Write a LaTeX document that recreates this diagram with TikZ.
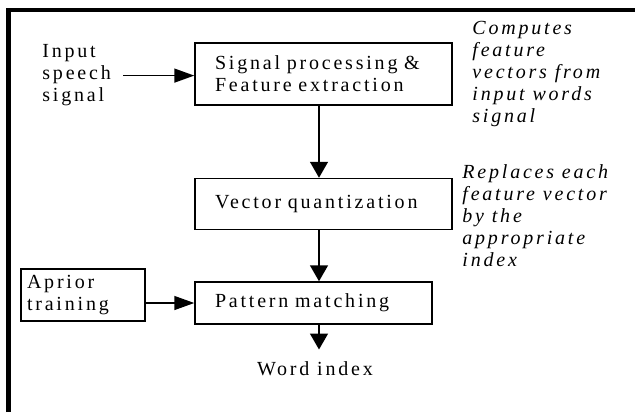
\documentclass[tikz,border=0pt]{standalone}
\usepackage{fontspec}
\setmainfont{Liberation Serif}[LetterSpace=14]
\usetikzlibrary{arrows.meta}
\usetikzlibrary{positioning}

\begin{document}
\begin{tikzpicture}[x=0.5pt,y=-0.5pt,font=\fontsize{10}{11}\selectfont]
\tikzstyle{block node}=[rectangle,draw,line width=0.75pt,align=left,inner xsep=10pt,inner ysep=0pt]
\tikzstyle{plain node}=[align=left,inner sep=0pt]
\tikzstyle{note node}=[align=left,inner sep=0pt,font=\fontsize{10}{11}\selectfont\itshape]
\tikzset{
  flow/.style = {-{Triangle[length=8pt,width=9pt]},line width=0.75pt},
  feed/.style = {-{Triangle[length=10pt,width=7pt]},line width=0.75pt}
}

\useasboundingbox (0,0) rectangle (635,412);
\draw[line width=2.25pt] (8.5,412) -- (8.5,10) -- (635,10);

    \node[block node,text width=108.5pt,minimum height=31pt] (sp) at (323.5,74) {Signal processing \&\\Feature extraction};
    \node[block node,text width=108.5pt,minimum height=25.5pt] (vq) [below=36pt of sp] {Vector quantization};
    \node[block node,text width=98.5pt,minimum height=21pt] (pm) [below right=25.5pt and 0pt of vq.south west] {Pattern matching};
    \node[block node,text width=56pt,inner xsep=3pt,minimum height=26pt] (apr) at (83,295) {Aprior\\training};
    \node[plain node,anchor=west] (inp) at (42,75.6) {Input\\speech\\signal};
    \node[plain node] (word) at (315,369) {Word index};

    %%%%%%%%%%%%%%%%%%%%%%%%%%
    \node[note node,anchor=north west] (cmt1) at (472,21) {Computes\\feature\\vectors from\\input words\\signal};
    \node[note node,anchor=north west] (cmt2) at (462,164) {Replaces each\\feature vector\\by the\\appropriate\\index};
    \coordinate (axis) at (319,0);

    \path[flow]
         (sp.south -| axis) edge (vq.north -| axis)
         (vq.south -| axis) edge (pm.north -| axis)
         (pm.south -| axis) edge[shorten >=6pt] (word.north -| axis)
         %%%%%%%%%%%%%%%%%%%%%%%%%%%
         (inp.east) edge[feed,shorten <=6pt] (inp.east -| sp.west)
         (apr.east |- pm.west) edge[feed] (pm.west)
;
\end{tikzpicture}
\end{document}
